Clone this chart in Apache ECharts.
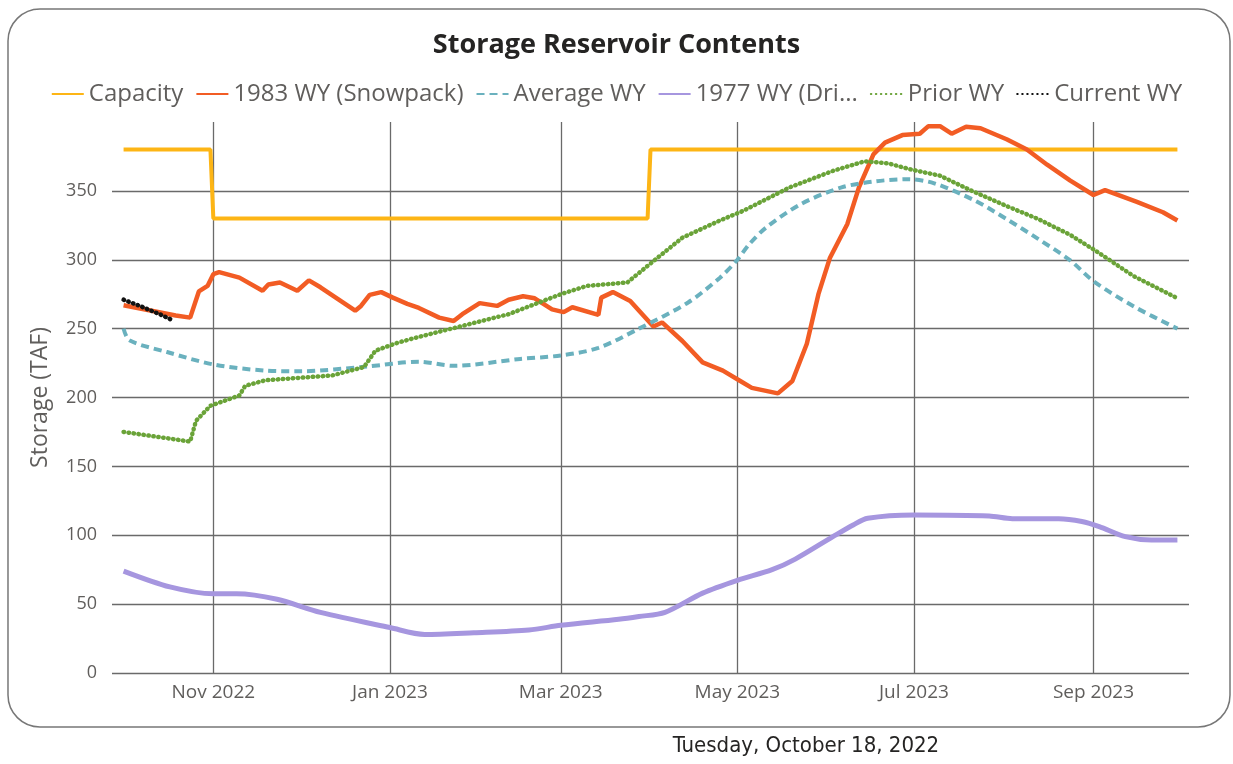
<!DOCTYPE html>
<html>
<head>
<meta charset="utf-8">
<title>Storage Reservoir Contents</title>
<script src="https://cdn.jsdelivr.net/npm/echarts@6/dist/echarts.min.js"></script>
<style>
  html, body { margin: 0; padding: 0; background: #fff; }
  #main { width: 1233px; height: 764px; }
</style>
</head>
<body>
<div id="main"></div>
<script>
// x axis tick marks (first of every other month)
var tickDates = ['2022-11-01', '2023-01-01', '2023-03-01', '2023-05-01', '2023-07-01', '2023-09-01'];
var yTicks = [0, 50, 100, 150, 200, 250, 300, 350];

var capacityDates = ['2022-10-01', '2022-10-31', '2022-11-01', '2023-03-31', '2023-04-01', '2023-09-30'];
var capacityValues = [380, 380, 330, 330, 380, 380];

var snowDates = ['2022-10-01', '2022-10-19', '2022-10-24', '2022-10-27', '2022-10-30', '2022-11-01', '2022-11-03',
  '2022-11-10', '2022-11-18', '2022-11-20', '2022-11-24', '2022-11-30', '2022-12-04', '2022-12-08', '2022-12-20',
  '2022-12-22', '2022-12-25', '2022-12-29', '2023-01-02', '2023-01-07', '2023-01-11', '2023-01-18', '2023-01-23',
  '2023-01-26', '2023-02-01', '2023-02-07', '2023-02-11', '2023-02-16', '2023-02-20', '2023-02-26', '2023-03-02',
  '2023-03-05', '2023-03-14', '2023-03-15', '2023-03-19', '2023-03-25', '2023-04-02', '2023-04-05', '2023-04-12',
  '2023-04-19', '2023-04-26', '2023-05-02', '2023-05-06', '2023-05-15', '2023-05-20', '2023-05-25', '2023-05-29',
  '2023-06-02', '2023-06-08', '2023-06-12', '2023-06-17', '2023-06-21', '2023-06-27', '2023-07-03', '2023-07-06',
  '2023-07-10', '2023-07-14', '2023-07-19', '2023-07-24', '2023-08-02', '2023-08-09', '2023-08-16', '2023-08-24',
  '2023-09-01', '2023-09-05', '2023-09-16', '2023-09-25', '2023-09-30'];
var snowValues = [267, 259.5, 258, 277, 281, 289.5, 291,
  287, 277.5, 282, 283.5, 277.5, 285, 280, 263,
  266.5, 274.5, 276.5, 272.5, 268, 265, 258, 255.5,
  260.5, 268.5, 266.5, 271, 273.5, 272, 264, 262,
  265.5, 260, 272.5, 276.5, 270, 251.5, 254.5, 241,
  225.5, 219.5, 212, 207, 203, 212, 239, 275,
  301.5, 326, 352.5, 376.5, 385, 390.5, 391.5, 397,
  397, 391.5, 396.5, 395.5, 387.5, 380, 369, 357.5,
  347, 350.5, 342, 334.5, 328.5];

var avgDates = ['2022-10-01', '2022-10-03', '2022-10-16', '2022-11-01', '2022-11-19', '2022-12-01', '2022-12-24',
  '2023-01-11', '2023-01-23', '2023-02-15', '2023-03-01', '2023-03-14', '2023-03-28', '2023-04-14', '2023-04-25',
  '2023-05-01', '2023-05-05', '2023-05-11', '2023-05-23', '2023-06-06', '2023-06-18', '2023-06-29', '2023-07-08',
  '2023-07-22', '2023-08-02', '2023-08-13', '2023-08-24', '2023-09-01', '2023-09-15', '2023-09-30'];
var avgValues = [250, 241.5, 233, 224, 219.5, 219, 222.5,
  226, 223, 228, 230.5, 236, 250, 269, 287,
  300, 311, 323.5, 340.5, 352.5, 357, 358.5, 355.5,
  343, 329.5, 315, 299.5, 284.5, 266, 250];

var droughtDates = ['2022-10-01', '2022-10-17', '2022-11-01', '2022-11-09', '2022-11-23', '2022-12-08', '2023-01-01',
  '2023-01-13', '2023-01-30', '2023-02-18', '2023-03-01', '2023-03-21', '2023-03-28', '2023-04-06', '2023-04-19',
  '2023-05-01', '2023-05-13', '2023-05-21', '2023-06-03', '2023-06-10', '2023-06-15', '2023-07-01', '2023-07-27',
  '2023-08-04', '2023-08-20', '2023-08-28', '2023-09-03', '2023-09-12', '2023-09-21', '2023-09-30'];
var droughtValues = [74, 62.5, 57.5, 57.5, 53.5, 44, 33,
  28, 29.3, 31.3, 34.6, 39, 41, 44, 58,
  67.3, 75, 82.7, 99, 107.5, 112.3, 114.7, 114,
  112, 112, 110, 106.3, 99, 96.6, 96.6];

var priorDates = ['2022-10-01', '2022-10-24', '2022-10-26', '2022-10-31', '2022-11-10', '2022-11-12', '2022-11-19',
  '2022-12-12', '2022-12-23', '2022-12-27', '2023-01-04', '2023-01-11', '2023-02-11', '2023-03-01', '2023-03-10',
  '2023-03-24', '2023-04-02', '2023-04-12', '2023-04-25', '2023-05-03', '2023-05-19', '2023-06-03', '2023-06-14',
  '2023-06-22', '2023-06-30', '2023-07-10', '2023-07-21', '2023-08-02', '2023-08-13', '2023-08-24', '2023-09-01',
  '2023-09-15', '2023-09-30'];
var priorValues = [175, 168, 183, 194, 201.5, 208.5, 212.5,
  216, 222, 234, 240, 244, 260.5, 275, 281,
  283.5, 299, 316, 328.5, 335.5, 352.5, 364.5, 371.5,
  370, 365.5, 361, 350, 339, 329.5, 318, 307.5,
  288, 272];

var currentDates = ['2022-10-01', '2022-10-06', '2022-10-10', '2022-10-14', '2022-10-18'];
var currentValues = [271, 267, 263.5, 260, 256];

var monthNames = ['Jan', 'Feb', 'Mar', 'Apr', 'May', 'Jun', 'Jul', 'Aug', 'Sep', 'Oct', 'Nov', 'Dec'];

function toTime(s) {
  var p = s.split('-');
  return new Date(+p[0], +p[1] - 1, +p[2]).getTime();
}
function pairs(dates, values) {
  return dates.map(function (d, i) { return [toTime(d), values[i]]; });
}

var gridColor = '#6a6a6a';
var textColor = '#605E5C';
var font = 'Open Sans';

var chart = echarts.init(document.getElementById('main'));
chart.setOption({
  backgroundColor: '#fff',
  animation: false,
  textStyle: { fontFamily: font },
  title: {
    text: 'Storage Reservoir Contents',
    left: 'center',
    top: 27,
    textStyle: { fontSize: 27, fontWeight: 'bold', color: '#252423', fontFamily: font }
  },
  legend: {
    top: 77,
    left: 'center',
    itemWidth: 32,
    itemHeight: 14,
    itemGap: 12,
    itemStyle: { opacity: 0 },
    textStyle: { fontSize: 24, color: textColor, fontFamily: font },
    // the legend cuts the long 1977 name short, as in the original
    formatter: function (name) {
      return name.indexOf('1977') === 0 ? name.slice(0, 12) + '...' : name;
    }
  },
  grid: { left: 112, right: 44, top: 122, bottom: 91 },
  xAxis: {
    type: 'value',
    min: toTime('2022-09-27'),
    max: toTime('2023-10-04'),
    axisLine: { show: false },
    axisTick: { show: false, customValues: tickDates.map(toTime) },
    axisLabel: {
      customValues: tickDates.map(toTime),
      color: textColor,
      fontSize: 19,
      margin: 10,
      formatter: function (v) {
        var d = new Date(v);
        return monthNames[d.getMonth()] + ' ' + d.getFullYear();
      }
    },
    splitLine: { show: true, lineStyle: { color: gridColor, width: 1.3 } }
  },
  yAxis: {
    type: 'value',
    min: 0,
    max: 400,
    interval: 50,
    name: 'Storage (TAF)',
    nameLocation: 'middle',
    nameGap: 60,
    nameTextStyle: { fontSize: 23, color: textColor, fontFamily: font },
    axisLine: { show: false },
    axisTick: { show: false },
    axisLabel: {
      color: textColor,
      fontSize: 18,
      margin: 15,
      showMaxLabel: false,
      formatter: function (v) { return yTicks.indexOf(v) >= 0 ? String(v) : ''; }
    },
    splitLine: { show: true, showMaxLine: false, lineStyle: { color: gridColor, width: 1.3 } }
  },
  graphic: [
    {
      type: 'rect',
      silent: true,
      z: -10,
      shape: { x: 8, y: 9, width: 1222, height: 718, r: 32 },
      style: { fill: 'none', stroke: '#777', lineWidth: 1.5 }
    },
    {
      type: 'text',
      silent: true,
      x: 806,
      y: 746,
      style: {
        text: 'Tuesday, October 18, 2022',
        fontSize: 22,
        fontFamily: 'DejaVu Sans Condensed',
        fill: '#252423',
        align: 'center',
        verticalAlign: 'middle'
      }
    }
  ],
  series: [
    {
      name: 'Capacity',
      type: 'line',
      symbol: 'none',
      data: pairs(capacityDates, capacityValues),
      lineStyle: { color: '#FDB515', width: 4 },
      itemStyle: { color: '#FDB515' }
    },
    {
      name: '1983 WY (Snowpack)',
      type: 'line',
      symbol: 'none',
      data: pairs(snowDates, snowValues),
      lineStyle: { color: '#F25C24', width: 4.5 },
      itemStyle: { color: '#F25C24' }
    },
    {
      name: 'Average WY',
      type: 'line',
      symbol: 'none',
      smooth: 0.3,
      data: pairs(avgDates, avgValues),
      lineStyle: { color: '#6AB1BE', width: 4, type: [8, 5] },
      itemStyle: { color: '#6AB1BE' }
    },
    {
      name: '1977 WY (Driest)',
      type: 'line',
      symbol: 'none',
      smooth: 0.3,
      data: pairs(droughtDates, droughtValues),
      lineStyle: { color: '#A696DF', width: 5 },
      itemStyle: { color: '#A696DF' }
    },
    {
      name: 'Prior WY',
      type: 'line',
      symbol: 'none',
      data: pairs(priorDates, priorValues),
      lineStyle: { color: '#6AA338', width: 4.5, type: [0.5, 4.5], cap: 'round' },
      itemStyle: { color: '#6AA338' }
    },
    {
      name: 'Current WY',
      type: 'line',
      symbol: 'none',
      data: pairs(currentDates, currentValues),
      lineStyle: { color: '#111', width: 4.5, type: [0.5, 4.5], cap: 'round' },
      itemStyle: { color: '#111' }
    }
  ]
});
</script>
</body>
</html>
